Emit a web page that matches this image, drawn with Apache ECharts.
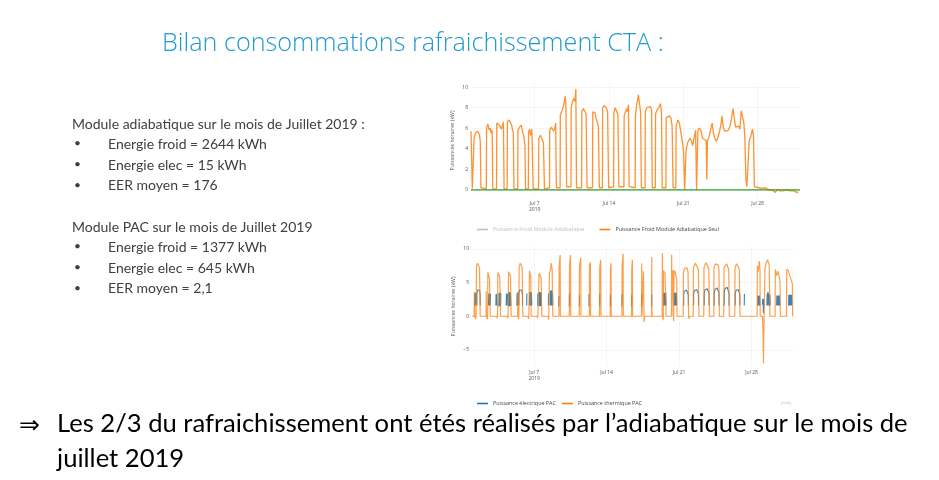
<!DOCTYPE html>
<html><head><meta charset="utf-8">
<script src="https://cdn.jsdelivr.net/npm/echarts@6/dist/echarts.min.js"></script>
<style>html,body{margin:0;padding:0;background:#fff}#c{width:939px;height:480px}</style>
</head><body><div id="c"></div>
<script>
// ---------- DATA (hours since 2019-07-01 00:00, kW) ----------
var xTickHours = [144, 312, 480, 648];
var xTickLabels = ['Jul 7\n2019', 'Jul 14', 'Jul 21', 'Jul 28'];
var y1Ticks = [0, 2, 4, 6, 8, 10];
var y2Ticks = [-5, 0, 5, 10];
var monthHours = [0, 744];

var adiaSeul = [
[0,5.7],[3,0.1],[6.5,0.1],[7,5.0],[10,5.5],[15,5.7],[19,5.4],[21,4.7],[22.5,0.2],
[34.7,0.1],[35.2,6.0],[38.1,6.4],[41.1,5.8],[43.4,6.0],[45.6,5.5],[47.9,5.8],[49.4,0.1],
[57.8,0.1],[58.3,6.5],[62.1,6.5],[65.8,6.2],[68.8,5.9],[71.8,6.0],[73.3,6.6],[74.8,0.1],
[81.8,0.1],[82.3,6.6],[86,6.8],[89,6.9],[92,6.3],[93.5,5.9],[95.7,5.6],[97.2,0.1],
[105.7,0.1],[106.2,5.8],[110,6.1],[113.7,6.3],[116.7,5.6],[119.7,5.2],[121.9,4.4],[123.4,0.1],
[129.7,0.1],[130.2,5.6],[132.4,5.9],[134.6,5.3],[137.6,5.9],[139.1,5.8],[140.6,0.1],
[152.8,0.1],[153.3,5.0],[157.1,5.3],[160.8,5.2],[163.8,4.6],[166.1,0.1],
[177.5,0.2],[178,5.8],[181.8,6.1],[184.8,6.0],[187,5.7],[189.2,6.0],[191.5,6.5],[193,0.2],
[201.5,0.2],[202,7.3],[205.7,7.7],[209.4,8.2],[211.7,8.2],[213.2,9.1],[214.7,8.1],[216.2,0.3],
[226.1,0.3],[226.6,8.0],[229.6,8.6],[232.6,8.9],[234.9,8.6],[237.1,9.8],[238.6,0.2],
[250.1,0.2],[250.6,7.6],[254.3,7.9],[258.1,7.9],[260.3,7.4],[262.5,0.2],
[274.8,0.2],[275.3,7.6],[280.5,7.5],[282.7,7.0],[285,6.7],[288,6.2],[290.2,0.2],
[297.2,0.2],[297.7,8.0],[301.4,8.2],[305.9,8.0],[308.9,7.6],[311.2,0.2],
[322.6,0.3],[323.1,7.5],[326.1,8.0],[329.1,7.9],[332.1,7.3],[334.4,0.3],
[345.8,0.3],[346.3,7.2],[349.3,7.6],[351.6,7.9],[353.8,7.6],[356.1,8.3],[357.5,0.3],
[371.3,0.2],[371.8,7.2],[374.7,8.3],[378.5,9.25],[382.2,8.0],[383.7,7.5],[385.2,0.2],
[393.7,0.2],[394.2,7.6],[397.9,8.0],[401.7,7.9],[405.4,8.1],[408.4,7.8],[409.9,0.2],
[416.9,0.2],[417.4,7.4],[421.1,7.8],[424.9,8.0],[428.6,8.4],[430.8,7.5],[432.3,0.2],
[440.8,0.2],[441.3,7.0],[445.1,7.1],[448.8,7.2],[452.5,6.9],[454.8,6.2],[457,0.2],
[463.3,0.2],[463.8,6.2],[468.2,6.8],[471.2,6.5],[475,5.5],[478.7,4.5],[481,3.5],[483.2,0.0],
[486.2,3.8],[489.9,4.6],[495.2,5.0],[498.2,4.8],[501.2,4.3],[505.6,4.2],[507.9,5.8],[510.1,0.0],
[513.1,5.8],[516.1,6.0],[519.9,5.8],[523.6,5.0],[528.1,4.9],[531.8,4.8],[533.3,1.0],[534.8,4.8],
[538.6,5.2],[541.6,5.8],[545.3,6.5],[548.3,5.5],[551.3,5.0],[555,4.7],[558,4.8],[561,5.5],
[564.7,6.2],[567.7,7.2],[570.7,6.0],[574.5,5.7],[578.2,5.6],[582,5.8],[585.7,6.2],[588.7,6.8],
[592.4,7.9],[595.4,7.0],[598.4,6.1],[602.1,6.0],[605.1,6.2],[608.1,5.9],[611.1,7.7],[614.1,7.8],
[617.1,6.5],[619.3,5.0],[621.6,1.0],[623.8,0.3],[626.8,0.3],[629.1,4.8],[632.8,5.2],[636.6,5.9],
[638.8,5.2],[641,0.3],
[650.8,0.2],[658.2,0.15],[662,0.05],[665.7,0.2],[669.5,0.15],[673.2,0.0],[677,-0.1],[680.7,0.0],
[684.4,-0.15],[688.2,-0.25],[691.9,0.0],[695.7,-0.05],[699.4,-0.1],[703.1,-0.2],[706.9,-0.1],
[710.6,-0.2],[714.4,0.0],[718.1,0.0],[721.9,-0.1],[725.6,0.05],[729.4,-0.1],[733.1,-0.2],
[736.8,-0.25],[740.5,-0.2]
];
var adiaZero = [0, 0];

var thermique = [
[0,0],[5.0,0],[5.6,3.6],[6.4,0],[8.6,-0.4],[9.5,0],[10.5,7.4],[12.8,7.9],[15.9,7.8],[17.4,7.2],[19,0],
[32.5,0],[32.9,3.7],[33.4,0],[35.6,-0.4],[36.2,0],[36.7,6.5],[39.1,6.0],[40.6,5.5],[42.2,0],
[57.8,0],[58.4,-0.3],[59.2,0],[59.9,6.5],[62.2,6.2],[64.5,5.8],[66.1,0],
[82.5,0],[83.1,-0.3],[83.8,0],[84.6,6.6],[86.9,6.7],[89.2,6.0],[90.8,0],
[105.8,0],[106.2,3.6],[106.7,0],[107.8,-0.4],[108.5,0],[109.3,7.3],[111.6,7.9],[113.9,7.8],[116.3,7.2],[117.8,0],
[130.3,0],[131.0,-0.4],[131.8,0],[133.2,6.8],[134.8,6.7],[136.3,6.0],[136.9,0],
[151.2,0],[151.8,-0.3],[152.6,0],[155.1,0],[155.6,6.4],[158,6.1],[160.3,5.5],[161.8,0],
[176.6,0],[177.2,-0.5],[178,0],[179.6,6.5],[181.9,6.8],[183.4,7.9],[185.7,7.0],[187.3,0],
[201.5,0],[201.9,7.4],[204.3,9.1],[204.8,0],
[225.5,0],[226,7.6],[228.2,9.1],[228.7,0],
[248.6,0],[249.1,7.5],[252.1,8.7],[252.6,0],
[271.9,0],[272.4,7.6],[274.4,8.0],[274.9,0],
[295.6,0],[296.1,7.4],[298.5,8.4],[299,0],
[320.5,0],[321,7.2],[322.3,7.9],[322.8,0],
[347.4,0],[347.9,7.5],[350.2,9.3],[350.7,0],
[369.8,0],[370.3,7.2],[371.8,8.4],[372.3,0],
[392.9,0],[393.4,7.9],[394,0],[396.8,0],[397.3,6.7],[398.8,-0.85],[400.4,0],
[416.1,0],[416.6,8.8],[417.1,0],
[440.7,0],[441.2,9.4],[441.8,0],[442.8,-0.6],[443.4,0],[443.8,6.8],[445.5,7.0],[447.3,6.4],[449.2,6.6],[449.9,0],
[462.3,0],[462.8,9.2],[463.3,0],[464.5,0],[465.2,6.5],[466.4,6.9],[467.5,-0.7],[468.3,6.3],[470,6.8],[472.5,6.6],[474.5,5.5],[475.2,0],
[489.5,0],[490,6.5],[492.5,7.1],[496.1,7.3],[498.5,7.2],[500.7,6.6],[502.2,0],[503.4,-0.4],[504,0],
[512.6,0],[513.1,7.2],[517.7,7.9],[520.8,7.8],[524.6,7.0],[526.2,0],
[537.2,0],[537.7,7.3],[542.4,8.0],[546,7.8],[549,7.0],[550.1,0],
[560.4,0],[560.9,7.3],[564.5,7.8],[567.1,7.9],[570.5,7.6],[572.5,7.0],[573.2,0],
[583.5,0],[584,7.2],[587,7.5],[590.2,7.8],[592.5,7.8],[595,7.0],[596.4,0],
[609.1,0],[609.6,7.2],[613.4,7.8],[616.5,7.7],[619.5,7.0],[621.2,0],
[660.8,0],[661.3,7.5],[663,6.6],[664.5,7.2],[666,8.2],[667.5,6.8],[668,0],
[673.3,0],[674.1,-1.5],[674.8,-3.5],[675.6,-7.0],[676.4,-2.5],[677.2,0],
[678.5,0],[679,7.0],[681.3,7.8],[685,8.4],[688.8,7.6],[690.6,0],
[702.5,0],[703,7.0],[706,6.0],[709.2,6.7],[712.3,5.8],[714,5.0],[714.6,0],
[729,0],[729.5,7.0],[733.4,6.7],[736.5,6.0],[740.4,5.3],[742.5,4.8],[743.2,0],[744,0]
];

var electrique = [
[5.9,1.5],[6.4,3.5],[6.9,1.6],[7.4,3.4],[7.9,1.6],[8.4,3.5],[9.0,1.6],[9.0,null],
[11.3,1.6],[11.4,3.3],[12.5,3.9],[14,4.1],[16,4.1],[17.5,3.9],[18.8,3.3],[19,1.6],[19,null],
[38.3,1.6],[38.8,3.4],[39.3,1.6],[39.8,3.3],[40.3,1.6],[40.8,3.4],[41.3,1.6],[41.8,3.4],[42.3,1.6],[42.9,3.3],[42.9,null],
[55.3,1.6],[55.8,3.3],[56.3,1.7],[56.8,3.3],[57.6,1.6],[57.6,null],
[62.2,1.5],[62.7,3.5],[63.2,1.5],[63.7,3.5],[64.2,1.5],[64.7,3.5],[65.2,1.5],[65.7,3.5],[66.2,1.5],[66.9,3.4],[66.9,null],
[79.2,1.6],[79.8,3.4],[80.4,1.6],[81,3.4],[81.6,1.6],[82.3,3.3],[82.3,null],
[84.6,1.5],[85.1,3.6],[85.6,1.5],[86.1,3.6],[86.6,1.5],[87.1,3.6],[87.6,1.5],[88.1,3.6],[88.6,1.5],[89.1,3.5],[90,1.6],[90,null],
[103.9,1.6],[104.5,3.4],[105.1,1.6],[105.7,3.5],[106.3,1.6],[107,3.4],[107,null],
[108.6,1.6],[108.7,3.3],[110,3.9],[111.5,4.1],[113.5,4.1],[115,3.9],[116.8,3.3],[117,1.6],[117,null],
[126.8,1.6],[127.2,3.4],[127.2,null],
[133.2,1.6],[133.7,3.6],[134.2,1.6],[134.7,3.6],[135.2,1.6],[135.7,3.6],[136.2,1.6],[136.7,3.6],[137.2,1.6],[137.7,3.5],[138.7,1.6],[138.7,null],
[152.3,1.6],[152.7,3.4],[152.7,null],
[155.6,1.5],[156.1,3.6],[156.6,1.5],[157.1,3.6],[157.6,1.5],[158.1,3.6],[158.6,1.5],[159.1,3.6],[159.6,1.5],[160.2,3.5],[161,1.6],[161,null],
[176.9,1.6],[177.3,3.4],[177.3,null],
[181.1,1.6],[181.6,3.7],[182.1,1.6],[182.6,3.8],[183.1,1.6],[183.6,3.9],[184.1,1.6],[184.6,3.8],[185.1,1.6],[185.6,3.7],[186.3,1.6],[186.8,3.5],[187.3,1.6],[187.3,null],
[201,1.5],[201.4,3.0],[201.4,null],
[225.6,1.5],[226,3.4],[226,null],
[248.8,1.5],[249.2,3.2],[249.2,null],
[271.1,1.5],[271.5,3.3],[271.5,null],
[295.8,1.5],[296.2,3.3],[296.2,null],
[320.5,1.5],[320.9,3.2],[320.9,null],
[347.6,1.5],[348,3.3],[348,null],
[370,1.5],[370.4,3.2],[370.4,null],
[393.1,1.5],[393.5,3.3],[393.5,null],
[416.3,1.5],[416.7,3.2],[416.7,null],
[443.6,1.6],[444.1,3.5],[444.6,1.6],[445.1,3.5],[445.6,1.6],[446.1,3.5],[446.6,1.6],[447.1,3.5],[447.6,1.6],[448.1,3.5],[448.6,1.6],[449.1,3.5],[449.8,1.6],[449.8,null],
[468.3,1.6],[468.8,3.5],[469.3,1.6],[469.8,3.5],[470.3,1.6],[470.8,3.5],[471.3,1.6],[471.8,3.5],[472.3,1.6],[472.8,3.5],[473.3,1.6],[473.8,3.5],[474.5,1.6],[474.5,null],
[490.5,1.6],[490.6,3.3],[492,3.7],[494.5,3.9],[497,3.9],[499.5,3.7],[501.3,3.2],[501.5,1.6],[501.5,null],
[513.6,1.6],[513.7,3.3],[515,3.8],[517.5,4.0],[520.5,4.0],[523,3.8],[524.8,3.3],[525,1.6],[525,null],
[538.2,1.6],[538.3,3.4],[539.7,3.9],[542.2,4.1],[545.2,4.1],[547.7,3.9],[549.4,3.4],[549.6,1.6],[549.6,null],
[561.3,1.6],[561.4,3.4],[562.8,4.0],[565.3,4.2],[568.3,4.2],[570.8,4.0],[572.5,3.4],[572.7,1.6],[572.7,null],
[584.5,1.6],[584.6,3.4],[586,4.1],[588.5,4.3],[591.5,4.3],[594,4.1],[595.7,3.4],[595.9,1.6],[595.9,null],
[610,1.6],[610.1,3.3],[611.5,3.8],[614,4.0],[617,4.0],[619.2,3.8],[620.6,3.3],[620.8,1.6],[620.8,null],
[631,1.6],[631.4,3.3],[631.4,null],
[662,1.6],[662.5,3.0],[663,1.6],[663.5,3.1],[664,1.6],[664.5,3.0],[665,1.6],[665.5,3.1],[666,1.6],[666.5,3.0],[667.5,1.6],[667.5,null],
[673.3,1.7],[673.8,2.6],[674.3,1.7],[674.8,2.6],[675.3,0.5],[675.9,2.5],[676.5,1.6],[676.5,null],
[683.6,1.6],[684.1,3.3],[684.6,1.6],[685.1,3.5],[685.6,1.6],[686.1,3.6],[686.6,1.6],[687.1,3.4],[687.6,1.6],[688.1,3.3],[688.6,1.6],[689.1,3.3],[689.6,1.6],[690.3,3.2],[691.3,1.6],[691.3,null],
[706.1,1.6],[706.6,3.1],[707.1,1.6],[707.6,3.1],[708.1,1.6],[708.6,3.1],[709.1,1.6],[709.6,3.1],[710.1,1.6],[710.6,3.1],[711.1,1.6],[711.6,3.1],[712.1,1.6],[712.6,3.1],[713.8,1.6],[713.8,null],
[733.8,1.6],[734.3,3.2],[734.8,1.6],[735.3,3.2],[735.8,1.6],[736.3,3.2],[736.8,1.6],[737.3,3.2],[737.8,1.6],[738.3,3.2],[738.8,1.6],[739.3,3.2],[739.8,1.6],[740.3,3.2],[741.6,1.6]
];

var titleText = 'Bilan consommations rafraichissement CTA :';
var block1Head = 'Module adiabatique sur le mois de Juillet 2019 :';
var block1Items = ['Energie froid = 2644 kWh', 'Energie elec = 15 kWh', 'EER moyen = 176'];
var block2Head = 'Module PAC sur le mois de Juillet 2019';
var block2Items = ['Energie froid = 1377 kWh', 'Energie elec = 645 kWh', 'EER moyen = 2,1'];
var conclusion1 = 'Les 2/3 du rafraichissement ont étés réalisés par l\u2019adiabatique sur le mois de';
var conclusion2 = 'juillet 2019';

// ---------- CHART ----------
var chart = echarts.init(document.getElementById('c'), null, {renderer: 'canvas'});
function gapped(arr){ return arr.map(function(p){ return [p[0], p[1] === null ? '-' : p[1]]; }); }
var tickFont = {fontFamily: 'Open Sans', fontSize: 5, color: '#555'};

function xAx(gi){
  return {
    type: 'value', gridIndex: gi, min: monthHours[0], max: monthHours[1],
    axisLine: {show: false}, axisTick: {show: false, customValues: xTickHours},
    axisLabel: Object.assign({customValues: xTickHours, margin: 4, lineHeight: 6,
      formatter: function(v){ var i = xTickHours.indexOf(v); return i >= 0 ? xTickLabels[i] : ''; }}, tickFont),
    splitLine: {show: true, lineStyle: {color: '#eeeeee', width: 0.6}}
  };
}
function yAx(gi, mn, mx, ticks){
  return {
    type: 'value', gridIndex: gi, min: mn, max: mx,
    name: 'Puissances horaires (kW)', nameLocation: 'middle', nameGap: 16,
    nameTextStyle: {fontFamily: 'Open Sans', fontSize: 5.2, color: '#555'},
    axisLine: {show: false}, axisTick: {show: false, customValues: ticks},
    axisLabel: Object.assign({customValues: ticks, margin: 3,
      formatter: function(v){ return v < 0 ? '\u2212' + Math.abs(v) : String(v); }}, tickFont),
    splitLine: {show: true, lineStyle: {color: '#eeeeee', width: 0.6}}
  };
}

var textColor = '#404040';
var graphics = [
  {type: 'text', left: 162, top: 31, style: {text: titleText, fill: '#1f9bcf', font: '300 25.2px "Open Sans"'}}
];
function addBlock(head, items, y0){
  graphics.push({type: 'text', left: 72, top: y0, style: {text: head, fill: textColor, font: '14px Lato'}});
  items.forEach(function(t, i){
    var y = y0 + 20.6 * (i + 1);
    graphics.push({type: 'text', left: 74, top: y, style: {text: '\u2022', fill: textColor, font: '12px Lato'}});
    graphics.push({type: 'text', left: 108, top: y, style: {text: t, fill: textColor, font: '14px Lato'}});
  });
}
addBlock(block1Head, block1Items, 117);
addBlock(block2Head, block2Items, 220);
graphics.push({type: 'text', left: 19, top: 414, style: {text: '\u21D2', fill: '#000', font: '25px DejaVu Sans'}});
graphics.push({type: 'text', left: 57, top: 411, style: {text: conclusion1, fill: '#000', font: '25.6px Lato'}});
graphics.push({type: 'text', left: 57, top: 446, style: {text: conclusion2, fill: '#000', font: '25.6px Lato'}});
graphics.push({type: 'text', left: 781, top: 401, style: {text: 'plotly', fill: '#a9c0ea', font: '4px Open Sans'}});

var legendText = {fontFamily: 'Open Sans', fontSize: 5.4, color: '#444'};
var option = {
  animation: false,
  backgroundColor: '#fff',
  graphic: graphics,
  grid: [
    {left: 471, top: 84, width: 329, height: 113},
    {left: 472, top: 247, width: 321, height: 119}
  ],
  xAxis: [xAx(0), xAx(1)],
  yAxis: [yAx(0, -0.7, 10.3, y1Ticks), yAx(1, -7.4, 10.3, y2Ticks)],
  legend: [
    {left: 472, top: 222, icon: 'rect', itemWidth: 11, itemHeight: 1.6, itemGap: 15,
     textStyle: legendText, inactiveColor: '#b9c3cc',
     data: ['Puissance Froid Module Adiabatique', 'Puissance Froid Module Adiabatique Seul'],
     selected: {'Puissance Froid Module Adiabatique': false}},
    {left: 472, top: 396, icon: 'rect', itemWidth: 11, itemHeight: 1.6, itemGap: 6,
     textStyle: legendText,
     data: ['Puissance \u00e9lectrique PAC', 'Puissance thermique PAC']}
  ],
  series: [
    {name: 'Puissance Froid Module Adiabatique', type: 'line', xAxisIndex: 0, yAxisIndex: 0,
     data: [], symbol: 'none', color: '#1f77b4'},
    {name: 'Puissance Froid Module Adiabatique Seul', type: 'line', xAxisIndex: 0, yAxisIndex: 0,
     data: adiaSeul, symbol: 'none', color: '#ff7f0e',
     lineStyle: {width: 1.3, opacity: 0.85}},
    {name: 'zero', type: 'line', xAxisIndex: 0, yAxisIndex: 0,
     data: monthHours.map(function(h, i){ return [h, adiaZero[i]]; }), symbol: 'none', color: '#2ca02c',
     lineStyle: {width: 1.2}},
    {name: 'Puissance \u00e9lectrique PAC', type: 'line', xAxisIndex: 1, yAxisIndex: 1,
     data: gapped(electrique), symbol: 'none', color: '#1f77b4', connectNulls: false,
     lineStyle: {width: 1.1, opacity: 0.9}},
    {name: 'Puissance thermique PAC', type: 'line', xAxisIndex: 1, yAxisIndex: 1,
     data: thermique, symbol: 'none', color: '#ff7f0e',
     lineStyle: {width: 1.2, opacity: 0.75}}
  ]
};
chart.setOption(option);
</script></body></html>
